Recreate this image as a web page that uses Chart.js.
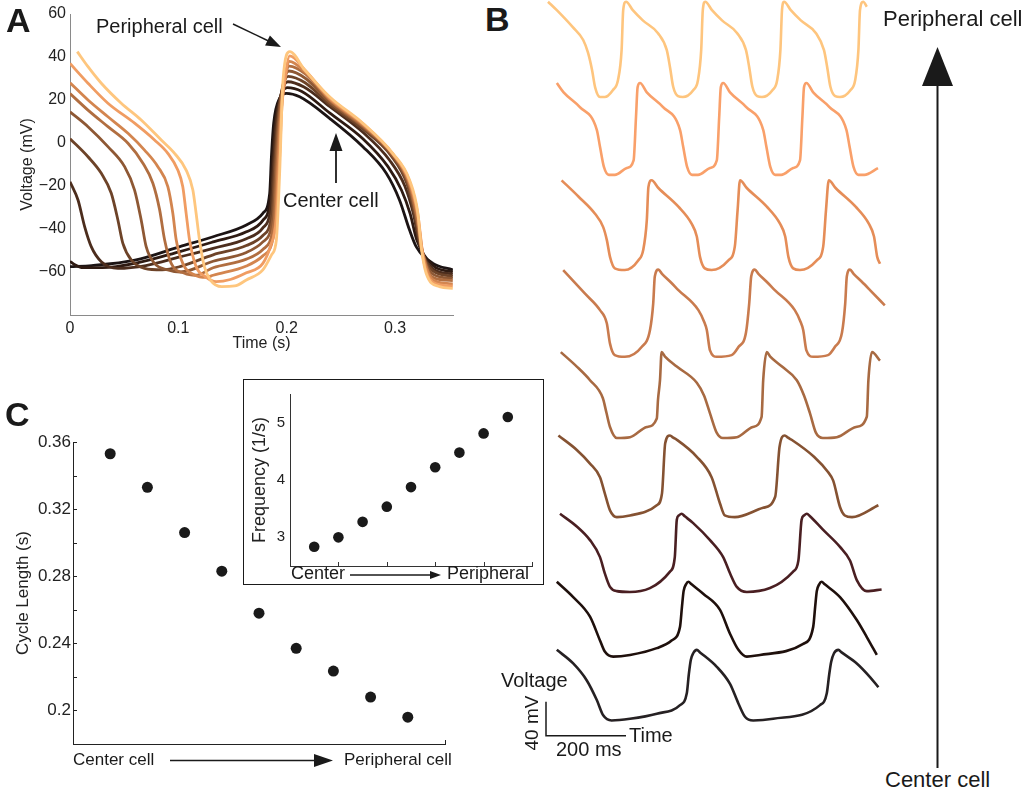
<!DOCTYPE html>
<html>
<head>
<meta charset="utf-8">
<script src="https://cdn.jsdelivr.net/npm/chart.js@4.4.1/dist/chart.umd.min.js"></script>
<style>
  body { margin: 0; background: #fff; }
  #page { position: relative; width: 1030px; height: 798px; overflow: hidden;
          font-family: "Liberation Sans", Arial, Helvetica, sans-serif; color: #1a1a1a; }
  canvas { position: absolute; }
  .txt { position: absolute; white-space: nowrap; line-height: 1; z-index: 6; }
  #insetBox { position: absolute; left: 243px; top: 379px; width: 301px; height: 206px;
              border: 1.5px solid #1a1a1a; box-sizing: border-box; background: #fff; z-index: 2; }
  #insetBox canvas { left: 0; top: 0; }
  svg { position: absolute; left: 0; top: 0; z-index: 7; pointer-events: none; }
</style>
</head>
<body>
<div id="page">
  <canvas id="chartA" width="470" height="360" style="left:0;top:0"></canvas>
  <canvas id="chartC" width="470" height="398" style="left:0;top:400px"></canvas>
  <div id="insetBox"><canvas id="chartInset" width="298" height="203"></canvas></div>
  <canvas id="chartB" width="350" height="740" style="left:540px;top:0;z-index:3"></canvas>

  <div class="txt" style="left:6px;top:3px;font-size:34px;font-weight:bold">A</div>
  <div class="txt" style="left:485px;top:2px;font-size:34px;font-weight:bold">B</div>
  <div class="txt" style="left:5px;top:397px;font-size:34px;font-weight:bold">C</div>

  <div class="txt" style="left:96px;top:16px;font-size:20px">Peripheral cell</div>
  <div class="txt" style="left:283px;top:190px;font-size:20px">Center cell</div>

  <div class="txt" style="left:883px;top:8px;font-size:22px">Peripheral cell</div>
  <div class="txt" style="left:885px;top:769px;font-size:22px">Center cell</div>

  <div class="txt" style="left:73px;top:751px;font-size:17px">Center cell</div>
  <div class="txt" style="left:344px;top:751px;font-size:17px">Peripheral cell</div>

  <div class="txt" style="left:291px;top:564px;font-size:18px">Center</div>
  <div class="txt" style="left:447px;top:564px;font-size:18px">Peripheral</div>

  <div class="txt" style="left:501px;top:670px;font-size:20px">Voltage</div>
  <div class="txt" style="left:531px;top:723px;font-size:19px;transform:translate(-50%,-50%) rotate(-90deg)">40 mV</div>
  <div class="txt" style="left:629px;top:725px;font-size:20px">Time</div>
  <div class="txt" style="left:556px;top:739px;font-size:20px">200 ms</div>

  <svg width="1030" height="798">
    <!-- panel A arrows -->
    <line x1="233" y1="24" x2="268" y2="40.7" stroke="#1a1a1a" stroke-width="1.5"/>
    <polygon points="281,47 265.1,45.5 269.9,35.5" fill="#1a1a1a"/>
    <line x1="336" y1="183" x2="336" y2="149" stroke="#1a1a1a" stroke-width="1.8"/>
    <polygon points="336,133 329.5,151 342.5,151" fill="#1a1a1a"/>
    <!-- panel B direction arrow -->
    <line x1="937.5" y1="768" x2="937.5" y2="84" stroke="#1a1a1a" stroke-width="2"/>
    <polygon points="937.5,47 922,86 953,86" fill="#1a1a1a"/>
    <!-- panel C arrows -->
    <line x1="170" y1="760.5" x2="318" y2="760.5" stroke="#1a1a1a" stroke-width="1.5"/>
    <polygon points="333,760.5 314,754 314,767" fill="#1a1a1a"/>
    <line x1="350" y1="575" x2="432" y2="575" stroke="#1a1a1a" stroke-width="1.5"/>
    <polygon points="441,575 430,571 430,579" fill="#1a1a1a"/>
  </svg>
</div>

<script>
// ---------- Panel A: one beat per cell [time s, voltage mV], center -> peripheral
const aCell1 = [[0,-57.5],[0.02,-57],[0.06,-54.5],[0.1014,-48.2],[0.1321,-43.6],[0.1628,-38.1],[0.178,-32.7],[0.1843,-23.4],[0.1859,-6.4],[0.188,9.2],[0.1935,20.8],[0.1997,23.1],[0.212,21.5],[0.2396,11.5],[0.2703,-1.7],[0.2919,-14.1],[0.3041,-26.5],[0.3134,-40.5],[0.3195,-48.2],[0.3349,-56],[0.3533,-59]];
const aCell2 = [[0,-55],[0.004,-56.5],[0.012,-58],[0.03,-58],[0.06,-56],[0.1014,-50.5],[0.1321,-46],[0.1628,-41.3],[0.178,-36],[0.1845,-27],[0.1866,-10],[0.189,8],[0.1945,22],[0.2005,25.8],[0.214,24],[0.2396,14],[0.2703,2],[0.2935,-11],[0.306,-22],[0.314,-33],[0.32,-45],[0.3349,-57],[0.3533,-60]];
const aCell3 = [[0,-18],[0.0074,-26.5],[0.0135,-38.9],[0.0196,-48.2],[0.0289,-55.2],[0.0442,-58.3],[0.07,-57],[0.1014,-53],[0.1321,-49],[0.1628,-44.5],[0.178,-39.5],[0.1855,-29],[0.1877,-10],[0.19,8],[0.1955,24],[0.201,28.5],[0.216,26],[0.2396,17],[0.2703,5],[0.295,-8],[0.309,-20],[0.317,-33],[0.3225,-47],[0.3349,-58.5],[0.3533,-61]];
const aCell4 = [[0,2],[0.0166,-6.4],[0.0289,-14.1],[0.0381,-23.4],[0.0442,-35.8],[0.0488,-46.7],[0.0565,-54.4],[0.0688,-58.3],[0.085,-59],[0.1014,-57.5],[0.1321,-52],[0.1628,-47.7],[0.178,-43],[0.1865,-32],[0.1888,-10],[0.1912,8],[0.1962,26],[0.2015,31],[0.217,28],[0.2396,18],[0.2703,6.5],[0.2965,-6],[0.311,-19],[0.318,-33],[0.3235,-48],[0.3349,-59.5],[0.3533,-62]];
const aCell5 = [[0,14.5],[0.0166,7.6],[0.035,-1.7],[0.0504,-11],[0.0596,-21.9],[0.0657,-35.8],[0.0703,-48.2],[0.078,-56],[0.0903,-59],[0.102,-60],[0.1321,-55],[0.1628,-50.9],[0.178,-46],[0.1875,-34],[0.1899,-10],[0.1922,9],[0.197,28],[0.202,33.5],[0.2175,30],[0.2396,19],[0.2703,7.5],[0.297,-5.5],[0.3115,-18],[0.319,-33],[0.3245,-49],[0.3349,-61],[0.3533,-63]];
const aCell6 = [[0,23],[0.0166,15.3],[0.035,7.6],[0.0535,-0.1],[0.0673,-9.4],[0.0765,-18.7],[0.0827,-31],[0.0873,-45],[0.0934,-56],[0.1057,-60.6],[0.116,-61.5],[0.1321,-58],[0.1628,-54],[0.178,-49.5],[0.1885,-36],[0.191,-10],[0.1933,10],[0.198,29],[0.2023,35.8],[0.2175,32],[0.2396,20],[0.2703,8],[0.2975,-5],[0.312,-17.5],[0.3195,-33],[0.325,-50],[0.3349,-62.5],[0.3533,-64]];
const aCell7 = [[0,28],[0.0166,20],[0.035,12.2],[0.0535,4.5],[0.0688,-3.3],[0.0811,-11],[0.0903,-20.3],[0.0949,-32.7],[0.098,-45],[0.1041,-56],[0.115,-61.4],[0.126,-62.5],[0.1321,-61.5],[0.1628,-57.2],[0.178,-52.5],[0.1895,-38],[0.1921,-10],[0.1944,12],[0.199,31],[0.2025,38],[0.217,33],[0.2396,20.5],[0.2703,8.5],[0.2977,-5],[0.3125,-17.5],[0.3205,-33],[0.3258,-52],[0.336,-64],[0.3533,-65.5]];
const aCell8 = [[0,37],[0.0166,27.8],[0.035,18.5],[0.0596,9.2],[0.078,1.4],[0.0903,-4.8],[0.0995,-12.6],[0.1041,-20.3],[0.1072,-32.7],[0.1103,-45],[0.1164,-57.5],[0.1245,-62],[0.135,-64.5],[0.148,-63.5],[0.1628,-60.4],[0.178,-56],[0.185,-48],[0.1905,-35],[0.1932,-10],[0.1955,16],[0.1995,34],[0.2027,40.5],[0.2168,34],[0.2396,21],[0.2703,9],[0.2978,-5],[0.313,-17.3],[0.321,-33],[0.3265,-55],[0.338,-65.5],[0.3533,-66.5]];
const aCell9 = [[0.0067,42.5],[0.0166,35.5],[0.0289,27.8],[0.0473,18.5],[0.0657,10.7],[0.0842,1.4],[0.0965,-4.8],[0.1072,-12.6],[0.1134,-21.9],[0.1164,-32.7],[0.1195,-45],[0.124,-57.5],[0.13,-64],[0.14,-66.8],[0.152,-66.5],[0.1628,-63.7],[0.178,-59],[0.186,-52],[0.1905,-45],[0.1935,-14],[0.1966,29.3],[0.2028,42.5],[0.2166,34],[0.2396,21.5],[0.2703,9.2],[0.2979,-4.8],[0.3134,-17.2],[0.3211,-32.7],[0.3241,-48.2],[0.3287,-60.6],[0.341,-66.8],[0.3533,-67.6]];
const aColors = ['#1c1414', '#2e1a12', '#4c2d1d', '#6d4328', '#8e5834', '#b16e40', '#d3854f', '#f09c62', '#fec67e'];
const aXTicks = [0, 0.1, 0.2, 0.3];
const aYTicks = [-60, -40, -20, 0, 20, 40, 60];

// ---------- Panel B: several beats per cell [time ms, voltage mV], top (peripheral) -> bottom (center)
const bCell1 = [[0,42],[22,32],[62,12],[88,-3],[100,-18],[110,-38],[118,-59],[130,-70],[142,-70],[162,-62],[175,-50],[184,-15],[188,32],[195,42],[212,32],[237,20],[275,5],[297,-15],[305,-35],[313,-58],[325,-69],[337,-70],[363,-62],[375,-50],[383,-15],[387,32],[393,42],[410,32],[435,20],[473,5],[495,-15],[503,-35],[511,-58],[523,-69],[535,-70],[561,-62],[573,-50],[581,-15],[585,32],[590,42],[607,32],[632,20],[670,5],[690,-15],[698,-35],[706,-58],[718,-69],[730,-70],[756,-62],[768,-50],[776,-15],[780,32],[788,42],[797,36]];
const bCell2 = [[22,40],[39,29],[79,12],[122,-15],[130,-35],[140,-59],[152,-68],[167,-68],[197,-60],[214,-51],[220,0],[224,35],[230,40],[247,29],[287,12],[330,-15],[338,-35],[348,-59],[360,-68],[375,-68],[405,-60],[422,-51],[428,0],[432,35],[438,40],[455,29],[495,12],[538,-15],[546,-35],[556,-59],[568,-68],[583,-68],[613,-60],[630,-51],[636,0],[640,35],[646,40],[663,29],[703,12],[746,-15],[754,-35],[764,-59],[776,-68],[791,-68],[825,-60]];
const bCell3 = [[34,40],[76,21],[117,1],[138,-15],[147,-30],[155,-50],[167,-63.5],[192,-65.5],[226,-54],[238,-42],[247,-7],[251,32],[259,40],[276,31],[326,9],[359,-11],[372,-26],[380,-50],[392,-63.5],[409,-65.5],[451,-54],[467,-38],[474,5],[480,40],[497,31],[547,9],[580,-11],[593,-26],[601,-50],[613,-63.5],[630,-65.5],[672,-54],[688,-38],[695,5],[702,40],[719,31],[769,9],[802,-11],[815,-26],[823,-50],[830,-58]];
const bCell4 = [[38,38.5],[92,11],[130,-8.6],[147,-24],[155,-48],[167,-61.5],[192,-63.5],[234,-52],[255,-32],[263,-1],[267,31],[276,39],[285,34],[305,25],[326,15],[376,-8.6],[390,-22],[397,-32],[405,-56],[422,-63.5],[459,-61.5],[476,-52],[495,-35],[503,-1],[508,31],[517,39],[526,34],[546,25],[567,15],[617,-8.6],[631,-22],[638,-32],[646,-56],[663,-63.5],[700,-61.5],[717,-52],[735,-35],[743,-1],[747,31],[755,39],[764,34],[784,25],[805,15],[842,-3]];
const bCell5 = [[32,36],[72,19],[105,3],[137,-18],[146,-35],[155,-52],[172,-65],[205,-64],[247,-52],[272,-42],[275,-20],[280,3],[284,36],[292,31],[322,19],[372,0],[390,-15],[405,-36],[422,-59],[437,-65],[472,-64],[512,-52],[534,-40],[538,3],[547,36],[555,31],[585,19],[622,3],[640,-15],[655,-36],[670,-59],[687,-65],[722,-64],[770,-52],[797,-40],[801,3],[810,36],[830,26]];
const bCell6 = [[26,33],[72,16],[105,0],[130,-16],[142,-35],[155,-55],[172,-63],[205,-61],[272,-49],[285,-35],[293,24],[305,33],[313,30.5],[322,28],[372,8],[409,-16],[430,-47],[442,-61],[467,-63],[538,-52],[568,-39],[579,20],[592,33],[600,30.5],[609,28],[665,8],[700,-10],[713,-20],[730,-51],[742,-61],[760,-63],[826,-49]];
const bCell7 = [[30,31],[72,16],[105,0],[130,-20],[142,-39],[155,-55],[172,-60],[205,-61],[305,-37],[317,-20],[322,24],[327,29],[334,31],[342,28],[363,20],[405,0],[438,-20],[455,-39],[472,-55],[497,-61],[613,-37],[626,-24],[634,24],[640,29],[647,31],[655,28],[688,12],[730,-8],[755,-24],[772,-47],[797,-60],[834,-58]];
const bCell8 = [[22,29],[63,11],[105,-12],[130,-40],[142,-53],[163,-59],[205,-57],[272,-49],[309,-40],[330,-24],[335,0],[339,18],[345,26],[351,29],[359,26],[388,15],[430,-4],[455,-32],[476,-51],[497,-59],[530,-57],[638,-44],[663,-24],[668,0],[672,18],[678,26],[684,29],[692,26],[730,11],[772,-16],[797,-36],[822,-57]];
const bCell9 = [[22,24],[63,8],[97,-12],[122,-35],[138,-53],[159,-59],[205,-57],[272,-51],[330,-41],[347,-27],[352,-5],[357,12],[363,20],[372,24],[380,21],[422,4],[455,-16],[476,-39],[493,-55],[513,-59],[563,-57],[680,-41],[697,-27],[703,-5],[708,10],[715,20],[726,24],[734,21],[772,8],[805,-8],[826,-20]];
const bOffsets = [-44, -137.6, -252, -356, -450, -545, -635, -713, -788];   // vertical stacking, mV
const bColors = ['#fec57e', '#f9a06a', '#e58d58', '#c97b4e', '#a86a42', '#855232', '#4a1f22', '#1f100c', '#262123'];
const barMs = 200, barMv = 40;            // scale bar size
const barOriginMs = -5, barOriginMv = -865;

// ---------- Panel C: cycle length and frequency per cell
const cellIndex = [1, 2, 3, 4, 5, 6, 7, 8, 9];
const cycleLength = [0.353, 0.333, 0.306, 0.283, 0.258, 0.237, 0.2235, 0.208, 0.196];
const frequency = [2.835, 3.0, 3.27, 3.535, 3.876, 4.223, 4.478, 4.813, 5.099];
const cYTicks = [0.2, 0.22, 0.24, 0.26, 0.28, 0.3, 0.32, 0.34, 0.36];
const cYLabels = [0.2, 0.24, 0.28, 0.32, 0.36];
const cXTicks = [10];
const insetYTicks = [3, 4, 5];
const insetXTicks = [2, 4, 6, 8, 10];

Chart.defaults.font.family = '"Liberation Sans", Arial, Helvetica, sans-serif';
Chart.defaults.color = '#1a1a1a';

const setTicks = arr => s => { s.ticks = arr.map(v => ({ value: v })); };
const noChrome = { legend: { display: false }, tooltip: { enabled: false } };

// small ticks pointing into the plot, as in the original figure
const inwardTicks = {
  id: 'inwardTicks',
  afterDraw(chart, args, opts) {
    const ctx = chart.ctx;
    ctx.save();
    ctx.strokeStyle = opts.color || '#222';
    ctx.lineWidth = 1;
    (opts.axes || []).forEach(id => {
      const s = chart.scales[id];
      s.ticks.forEach(t => {
        const p = Math.round(s.getPixelForValue(t.value)) + 0.5;
        ctx.beginPath();
        if (s.isHorizontal()) { ctx.moveTo(p, s.top); ctx.lineTo(p, s.top - 4); }
        else { ctx.moveTo(s.right, p); ctx.lineTo(s.right + 4, p); }
        ctx.stroke();
      });
    });
    ctx.restore();
  }
};

const scaleBar = {
  id: 'scaleBar',
  afterDraw(chart) {
    const { x, y } = chart.scales;
    const x0 = x.getPixelForValue(barOriginMs), x1 = x.getPixelForValue(barOriginMs + barMs);
    const y0 = y.getPixelForValue(barOriginMv), y1 = y.getPixelForValue(barOriginMv + barMv);
    const ctx = chart.ctx;
    ctx.save();
    ctx.strokeStyle = '#1a1a1a';
    ctx.lineWidth = 1.5;
    ctx.beginPath();
    ctx.moveTo(x0, y1); ctx.lineTo(x0, y0); ctx.lineTo(x1, y0);
    ctx.stroke();
    ctx.restore();
  }
};

// Panel A
const aCells = [aCell1, aCell2, aCell3, aCell4, aCell5, aCell6, aCell7, aCell8, aCell9];
new Chart(document.getElementById('chartA'), {
  type: 'line',
  data: {
    // peripheral first so it is drawn on top
    datasets: aCells.map((d, i) => ({
      data: d.map(p => ({ x: p[0], y: p[1] })),
      borderColor: aColors[i], borderWidth: 2.8, pointRadius: 0,
      cubicInterpolationMode: 'monotone', fill: false
    })).reverse()
  },
  options: {
    responsive: false, animation: false, events: [],
    layout: { padding: { top: 14, right: 17, left: 0, bottom: 0 } },
    plugins: noChrome,
    scales: {
      x: {
        type: 'linear', min: 0, max: 0.3535,
        afterBuildTicks: setTicks(aXTicks), afterFit: s => { s.height = 45; },
        grid: { display: false, drawTicks: false },
        border: { color: '#8a8a8a', width: 1 },
        ticks: { font: { size: 16 }, color: '#222', padding: 4, maxRotation: 0, autoSkip: false, callback: v => String(v) },
        title: { display: true, text: 'Time (s)', color: '#222', font: { size: 16 }, padding: { top: 0, bottom: 7 } }
      },
      y: {
        min: -80, max: 60,
        afterBuildTicks: setTicks(aYTicks), afterFit: s => { s.width = 70; },
        grid: { display: false, drawTicks: false },
        border: { color: '#8a8a8a', width: 1 },
        ticks: { font: { size: 16 }, color: '#222', padding: 4, autoSkip: false, callback: v => String(v).replace('-', '\u2212') },
        title: { display: true, text: 'Voltage (mV)', color: '#222', font: { size: 16 }, padding: { top: 18, bottom: 0 } }
      }
    }
  }
});

// Panel B
const bCells = [bCell1, bCell2, bCell3, bCell4, bCell5, bCell6, bCell7, bCell8, bCell9];
new Chart(document.getElementById('chartB'), {
  type: 'line',
  data: {
    datasets: bCells.map((d, i) => ({
      data: d.map(p => ({ x: p[0], y: p[1] + bOffsets[i] })),
      borderColor: bColors[i], borderWidth: 2.6, pointRadius: 0,
      cubicInterpolationMode: 'monotone', fill: false, clip: false
    }))
  },
  options: {
    responsive: false, animation: false, events: [],
    layout: { padding: 0 },
    plugins: noChrome,
    scales: {
      x: { type: 'linear', min: -20, max: 855, display: false },
      y: { min: -870, max: 0, display: false }
    }
  },
  plugins: [scaleBar]
});

// Panel C, main plot
new Chart(document.getElementById('chartC'), {
  type: 'scatter',
  data: {
    datasets: [{
      data: cellIndex.map((c, i) => ({ x: c, y: cycleLength[i] })),
      pointRadius: 5.5, backgroundColor: '#1a1a1a', borderWidth: 0
    }]
  },
  options: {
    responsive: false, animation: false, events: [],
    layout: { padding: { top: 42, right: 25, left: 0, bottom: 0 } },
    plugins: { ...noChrome, inwardTicks: { axes: ['x', 'y'], color: '#222' } },
    scales: {
      x: {
        min: 0, max: 10,
        afterBuildTicks: setTicks(cXTicks), afterFit: s => { s.height = 54; },
        grid: { display: false, drawTicks: false },
        border: { color: '#222', width: 1 },
        ticks: { display: false }
      },
      y: {
        min: 0.18, max: 0.36,
        afterBuildTicks: setTicks(cYTicks), afterFit: s => { s.width = 73; },
        grid: { display: false, drawTicks: false },
        border: { color: '#222', width: 1 },
        ticks: { font: { size: 17 }, color: '#222', padding: 2, autoSkip: false,
                 callback: v => cYLabels.includes(v) ? String(v) : '' },
        title: { display: true, text: 'Cycle Length (s)', color: '#222', font: { size: 17 }, padding: { top: 13, bottom: 0 } }
      }
    }
  },
  plugins: [inwardTicks]
});

// Panel C, inset
new Chart(document.getElementById('chartInset'), {
  type: 'scatter',
  data: {
    datasets: [{
      data: cellIndex.map((c, i) => ({ x: c, y: frequency[i] })),
      pointRadius: 5.3, backgroundColor: '#1a1a1a', borderWidth: 0
    }]
  },
  options: {
    responsive: false, animation: false, events: [],
    layout: { padding: { top: 6, right: 10, left: 0, bottom: 0 } },
    plugins: { ...noChrome, inwardTicks: { axes: ['x'], color: '#333' } },
    scales: {
      x: {
        min: 0, max: 10,
        afterBuildTicks: setTicks(insetXTicks), afterFit: s => { s.height = 17; },
        grid: { display: false, drawTicks: false },
        border: { color: '#333', width: 1 },
        ticks: { display: false }
      },
      y: {
        min: 2.5, max: 5.5,
        afterBuildTicks: setTicks(insetYTicks), afterFit: s => { s.width = 46; },
        grid: { display: false, drawTicks: false },
        border: { color: '#333', width: 1 },
        ticks: { font: { size: 15 }, color: '#222', padding: 5, autoSkip: false, callback: v => String(v) },
        title: { display: true, text: 'Frequency (1/s)', color: '#222', font: { size: 18 }, padding: { top: 5, bottom: 0 } }
      }
    }
  },
  plugins: [inwardTicks]
});
</script>
</body>
</html>
